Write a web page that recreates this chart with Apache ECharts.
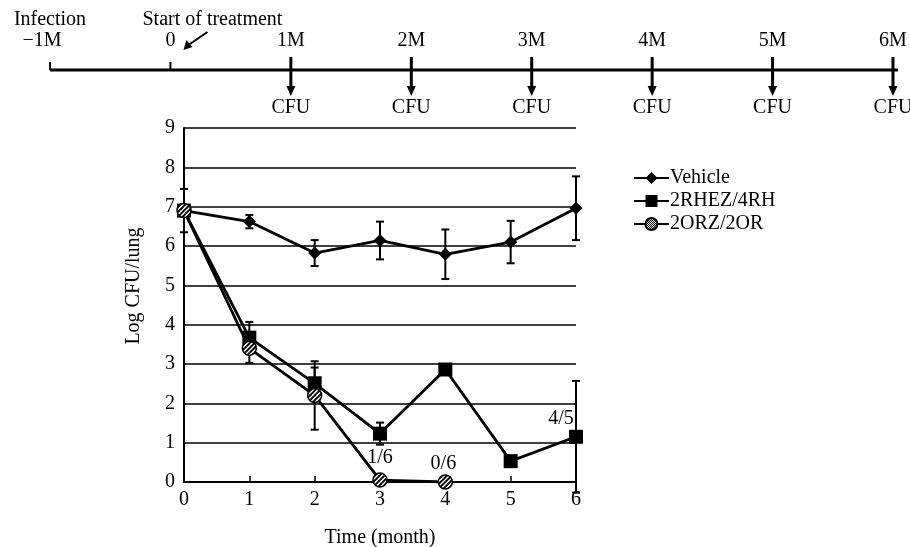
<!DOCTYPE html>
<html>
<head>
<meta charset="utf-8">
<script src="https://cdn.jsdelivr.net/npm/echarts@6/dist/echarts.min.js"></script>
<style>
  html, body { margin: 0; padding: 0; background: #fff; }
  #chart { width: 910px; height: 547px; }
</style>
</head>
<body>
<div id="chart"></div>
<script>
// timeline at the top
const timelineMonths = [-1, 0, 1, 2, 3, 4, 5, 6];
const timelineLabels = ['\u22121M', '0', '1M', '2M', '3M', '4M', '5M', '6M'];
const timelineCFU = [false, false, true, true, true, true, true, true];

// main plot
const months = [0, 1, 2, 3, 4, 5, 6];
const vehicle = [6.9, 6.62, 5.82, 6.14, 5.79, 6.1, 6.96];
const vehicleErr = [0.55, 0.17, 0.33, 0.48, 0.63, 0.54, 0.81];
const rhez = [6.9, 3.67, 2.51, 1.23, 2.86, 0.53, 1.15];
const rhezErr = [0, 0.4, 0.4, 0.28, 0, 0, 1.42];
const orzMonths = [0, 1, 2, 3, 4];
const orz = [6.9, 3.4, 2.2, 0.05, 0];
const orzErr = [0, 0.37, 0.87, 0, 0];

// ratio notes next to points
const noteX = [3, 3.97, 5.77];
const noteY = [0.62, 0.47, 1.6];
const noteText = ['1/6', '0/6', '4/5'];

const FONT = 'Liberation Serif';
const FS = 20;
const INK = '#000';

// diagonal hatch for the 2ORZ/2OR circles
// (symbols are drawn at unit size and scaled up, so the pattern is scaled down)
const hatch = document.createElement('canvas');
hatch.width = 32; hatch.height = 32;
(function () {
  const c = hatch.getContext('2d');
  c.fillStyle = '#fff';
  c.fillRect(0, 0, 32, 32);
  c.strokeStyle = '#000';
  c.lineWidth = 3.2;
  c.beginPath();
  for (let k = -32; k <= 64; k += 8) {
    c.moveTo(k - 4, 36); c.lineTo(k + 36, -4);
  }
  c.stroke();
})();
const hatchFill = { image: hatch, repeat: 'repeat', scaleX: 0.085, scaleY: 0.085 };

function errData(xs, ys, es) {
  const out = [];
  xs.forEach((x, i) => { if (es[i] > 0) out.push([x, ys[i] - es[i], ys[i] + es[i]]); });
  return out;
}

function errRender(params, api) {
  const x = api.value(0);
  const lo = api.coord([x, api.value(1)]);
  const hi = api.coord([x, api.value(2)]);
  const st = { stroke: INK, lineWidth: 2 };
  return {
    type: 'group',
    children: [
      { type: 'line', shape: { x1: lo[0], y1: lo[1], x2: hi[0], y2: hi[1] }, style: st },
      { type: 'line', shape: { x1: hi[0] - 4, y1: hi[1], x2: hi[0] + 4, y2: hi[1] }, style: st },
      { type: 'line', shape: { x1: lo[0] - 4, y1: lo[1], x2: lo[0] + 4, y2: lo[1] }, style: st }
    ]
  };
}

function noteRender(params, api) {
  const p = api.coord([api.value(0), api.value(1)]);
  return {
    type: 'text',
    style: {
      text: noteText[params.dataIndex], x: p[0], y: p[1],
      fill: INK, font: FS + 'px "' + FONT + '"', textAlign: 'center', textVerticalAlign: 'middle'
    }
  };
}

function timelineRender(params, api) {
  const i = params.dataIndex;
  const p = api.coord([api.value(0), 0]);
  const st = { stroke: INK, lineWidth: 3 };
  const txt = { fill: INK, font: FS + 'px "' + FONT + '"', textAlign: 'center', textVerticalAlign: 'middle' };
  const children = [];
  if (i === 0) {
    // the long axis line
    const end = api.coord([6, 0]);
    children.push({ type: 'line', shape: { x1: p[0], y1: p[1], x2: end[0] + 5, y2: p[1] }, style: st });
  }
  if (timelineCFU[i]) {
    children.push({ type: 'line', shape: { x1: p[0], y1: p[1] - 13, x2: p[0], y2: p[1] + 18 }, style: st });
    children.push({ type: 'polygon', shape: { points: [[p[0] - 4.5, p[1] + 16], [p[0] + 4.5, p[1] + 16], [p[0], p[1] + 26]] }, style: { fill: INK } });
    children.push({ type: 'text', style: Object.assign({ text: 'CFU', x: p[0], y: p[1] + 38 }, txt) });
  } else {
    children.push({ type: 'line', shape: { x1: p[0], y1: p[1] - 8, x2: p[0], y2: p[1] }, style: { stroke: INK, lineWidth: 2 } });
  }
  const lx = i === 0 ? p[0] - 8 : p[0];
  children.push({ type: 'text', style: Object.assign({ text: timelineLabels[i], x: lx, y: p[1] - 29 }, txt) });
  if (i === 0) {
    children.push({ type: 'text', style: Object.assign({ text: 'Infection', x: p[0], y: p[1] - 50 }, txt) });
  }
  if (i === 1) {
    children.push({ type: 'text', style: Object.assign({ text: 'Start of treatment', x: p[0] + 42, y: p[1] - 50 }, txt) });
    children.push({ type: 'line', shape: { x1: p[0] + 37, y1: p[1] - 38, x2: p[0] + 18, y2: p[1] - 25 }, style: { stroke: INK, lineWidth: 2 } });
    children.push({ type: 'polygon', shape: { points: [[p[0] + 13, p[1] - 20], [p[0] + 16, p[1] - 30], [p[0] + 22, p[1] - 23]] }, style: { fill: INK } });
  }
  return { type: 'group', children: children };
}

const chart = echarts.init(document.getElementById('chart'));
chart.setOption({
  animation: false,
  backgroundColor: '#fff',
  textStyle: { fontFamily: FONT, color: INK },
  grid: [
    { left: 184, top: 128, width: 392, height: 354, outerBoundsMode: 'none', containLabel: false },
    { left: 50, top: 70, width: 843, height: 40, outerBoundsMode: 'none', containLabel: false }
  ],
  xAxis: [
    {
      gridIndex: 0, type: 'value', min: 0, max: 6, interval: 1,
      name: 'Time (month)', nameLocation: 'middle', nameGap: 46,
      nameTextStyle: { fontFamily: FONT, fontSize: FS, color: INK },
      axisLine: { lineStyle: { color: INK, width: 2 } },
      axisTick: { inside: true, length: 6, lineStyle: { color: INK, width: 1.5 } },
      axisLabel: { fontFamily: FONT, fontSize: FS, color: INK, margin: 8 },
      splitLine: { show: false }
    },
    { gridIndex: 1, type: 'value', min: -1, max: 6, show: false }
  ],
  yAxis: [
    {
      gridIndex: 0, type: 'value', min: 0, max: 9, interval: 1,
      name: 'Log CFU/lung', nameLocation: 'middle', nameGap: 40,
      nameTextStyle: { fontFamily: FONT, fontSize: FS, color: INK, padding: [0, 0, 0, 38] },
      axisLine: { show: true, lineStyle: { color: INK, width: 2 } },
      axisTick: { show: false },
      axisLabel: { fontFamily: FONT, fontSize: FS, color: INK, margin: 9 },
      splitLine: { show: true, lineStyle: { color: INK, width: 1.6 } }
    },
    { gridIndex: 1, type: 'value', min: 0, max: 1, inverse: true, show: false }
  ],
  legend: {
    orient: 'vertical', left: 633, top: 168, itemGap: 3, padding: 0,
    itemWidth: 35, itemHeight: 15,
    textStyle: { fontFamily: FONT, fontSize: FS, color: INK, padding: [0, 0, 0, -4] },
    data: ['Vehicle', '2RHEZ/4RH', '2ORZ/2OR']
  },
  series: [
    {
      type: 'custom', xAxisIndex: 0, yAxisIndex: 0, z: 1,
      renderItem: errRender,
      data: errData(months, vehicle, vehicleErr)
    },
    {
      type: 'custom', xAxisIndex: 0, yAxisIndex: 0, z: 1,
      renderItem: errRender,
      data: errData(months, rhez, rhezErr)
    },
    {
      type: 'custom', xAxisIndex: 0, yAxisIndex: 0, z: 1,
      renderItem: errRender,
      data: errData(orzMonths, orz, orzErr)
    },
    {
      name: 'Vehicle', type: 'line', xAxisIndex: 0, yAxisIndex: 0, z: 3,
      data: months.map((m, i) => [m, vehicle[i]]),
      symbol: 'diamond', symbolSize: 13,
      lineStyle: { color: INK, width: 2.8 },
      itemStyle: { color: INK, borderWidth: 0 }
    },
    {
      name: '2RHEZ/4RH', type: 'line', xAxisIndex: 0, yAxisIndex: 0, z: 4,
      data: months.map((m, i) => [m, rhez[i]]),
      symbol: 'rect', symbolSize: 14,
      lineStyle: { color: INK, width: 2.8 },
      itemStyle: { color: INK, borderWidth: 0 }
    },
    {
      name: '2ORZ/2OR', type: 'line', xAxisIndex: 0, yAxisIndex: 0, z: 5,
      data: orzMonths.map((m, i) => [m, orz[i]]),
      symbol: 'circle', symbolSize: 14,
      lineStyle: { color: INK, width: 2.8 },
      itemStyle: { color: hatchFill, borderColor: INK, borderWidth: 1.5 }
    },
    {
      type: 'custom', xAxisIndex: 0, yAxisIndex: 0, z: 6, silent: true,
      renderItem: noteRender,
      data: noteX.map((x, i) => [x, noteY[i]])
    },
    {
      type: 'custom', xAxisIndex: 1, yAxisIndex: 1, silent: true,
      renderItem: timelineRender,
      data: timelineMonths.map(m => [m])
    }
  ]
});
</script>
</body>
</html>
